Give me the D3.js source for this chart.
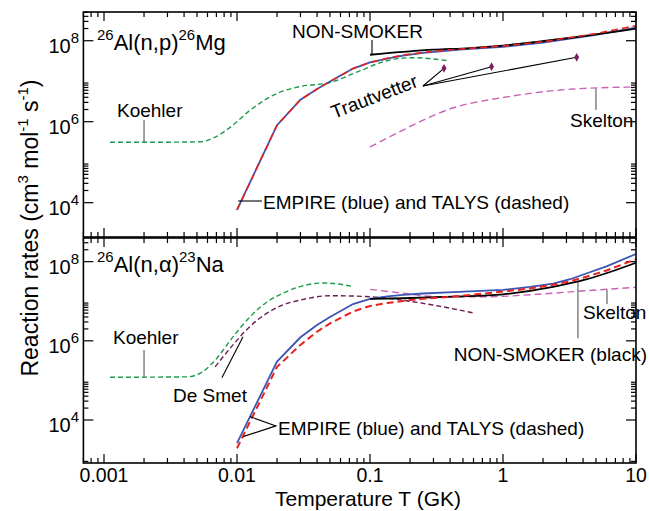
<!DOCTYPE html>
<html>
<head>
<meta charset="utf-8">
<script src="https://cdn.jsdelivr.net/npm/d3@7"></script>
<style>
  body { margin: 0; background: #fff; }
  text { font-family: "Liberation Sans", Arial, sans-serif; fill: #000; }
</style>
</head>
<body>
<script>
// ---- data (T in GK, rate in cm3 mol-1 s-1) ----

// 26Al(n,p)26Mg
var koehlerNpT = [0.00111, 0.0022, 0.0053, 0.0068, 0.0093, 0.0125, 0.02, 0.03, 0.05, 0.084, 0.134, 0.21, 0.385];
var koehlerNp  = [3.1e5, 3.1e5, 3.2e5, 4.1e5, 8.2e5, 1.9e6, 5e6, 7.4e6, 9.3e6, 1.8e7, 3.2e7, 3.8e7, 3.2e7];
var empireNpT  = [0.01, 0.02, 0.03, 0.04, 0.05, 0.0745, 0.1, 0.135, 0.177, 0.25, 0.32, 0.5, 1, 2, 3.2, 5, 10];
var empireNp   = [6.6e3, 8.2e5, 3.5e6, 6.4e6, 9.8e6, 2.05e7, 2.9e7, 3.6e7, 4.3e7, 5.0e7, 5.4e7, 6.1e7, 7.1e7, 9.0e7, 1.12e8, 1.4e8, 2.1e8];
var talysNpT   = [0.01, 0.02, 0.03, 0.04, 0.05, 0.0745, 0.1, 0.135, 0.177, 0.25, 0.32, 0.5, 1, 2, 3.2, 5, 10];
var talysNp    = [6.6e3, 8.2e5, 3.5e6, 6.4e6, 9.8e6, 2.05e7, 2.9e7, 3.7e7, 4.4e7, 5.1e7, 5.6e7, 6.3e7, 7.4e7, 9.4e7, 1.2e8, 1.5e8, 2.35e8];
var nonsmokerNpT = [0.1, 0.3, 0.56, 1, 3, 10];
var nonsmokerNp  = [4.5e7, 6e7, 6.6e7, 7.6e7, 1.15e8, 2.0e8];
var skeltonNpT = [0.1, 0.177, 0.238, 0.38, 1.07, 3.36, 10];
var skeltonNp  = [2.37e5, 6.2e5, 1.0e6, 1.95e6, 4.1e6, 6.4e6, 7.2e6];
var trautT     = [0.36, 0.82, 3.58];
var traut      = [2.08e7, 2.28e7, 3.9e7];

// 26Al(n,a)23Na
var koehlerNaT = [0.00111, 0.0042, 0.00555, 0.00708, 0.00933, 0.0125, 0.0168, 0.0222, 0.0298, 0.045, 0.0745];
var koehlerNa  = [1.2e5, 1.23e5, 1.67e5, 3.7e5, 1.26e6, 4e6, 9.6e6, 1.6e7, 2.35e7, 2.9e7, 2.35e7];
var desmetT    = [0.00684, 0.00933, 0.0125, 0.0168, 0.0222, 0.0298, 0.05, 0.1, 0.238, 0.594];
var desmet     = [2.2e5, 7.9e5, 2.3e6, 5e6, 8.1e6, 1.07e7, 1.38e7, 1.3e7, 9.1e6, 5.1e6];
var empireNaT  = [0.01, 0.02, 0.03, 0.04, 0.05, 0.0745, 0.1, 0.135, 0.177, 0.25, 0.42, 1, 1.6, 2.38, 3.2, 4.28, 6, 10];
var empireNa   = [2.6e3, 3e5, 1.23e6, 2.5e6, 4e6, 8.5e6, 1.15e7, 1.32e7, 1.45e7, 1.57e7, 1.7e7, 1.94e7, 2.3e7, 2.8e7, 3.6e7, 5.1e7, 7.6e7, 1.56e8];
var talysNaT   = [0.01, 0.02, 0.03, 0.04, 0.05, 0.0745, 0.1, 0.135, 0.177, 0.25, 0.42, 1, 1.6, 2.38, 3.2, 4.28, 6, 10];
var talysNa    = [1.94e3, 2.2e5, 7.9e5, 1.7e6, 2.75e6, 5.5e6, 7.6e6, 9.0e6, 1.02e7, 1.15e7, 1.31e7, 1.75e7, 2.1e7, 2.6e7, 3.2e7, 4.2e7, 6.0e7, 1.15e8];
var nonsmokerNaT = [0.1, 0.177, 0.42, 1, 2.38, 4.28, 10];
var nonsmokerNa  = [1.15e7, 1.19e7, 1.31e7, 1.5e7, 2.3e7, 3.6e7, 9.4e7];
var skeltonNaT = [0.1, 0.177, 0.32, 0.76, 1.8, 4.28, 10];
var skeltonNa  = [2.0e7, 1.6e7, 1.3e7, 1.3e7, 1.5e7, 1.85e7, 2.25e7];

// axis ticks
var xMajor = [0.001, 0.01, 0.1, 1, 10];
var xLabels = ["0.001", "0.01", "0.1", "1", "10"];
var yMajorExp = [4, 6, 8];

// ---- layout ----
var svg = d3.select("body").append("svg")
  .attr("width", 649).attr("height", 511);

var x = d3.scaleLog().domain([0.0007, 10]).range([83.4, 636]);

var panels = [
  { y: d3.scaleLog().domain([1.42e3, 5.12e8]).range([237, 12]) },
  { y: d3.scaleLog().domain([8.2e2, 3.96e8]).range([463, 238]) }
];

var colors = {
  blue: "#3a55b2", red: "#e8221e", green: "#1e9a4a",
  pink: "#c862b6", purple: "#6b1d55", black: "#000"
};

function zip(ts, vs) { return ts.map(function (t, i) { return [t, vs[i]]; }); }

// series table per panel (theory curves are drawn point to point, fits are smoothed)
panels[0].series = [
  { d: zip(koehlerNpT, koehlerNp), c: colors.green, w: 1.4, dash: "5,3", smooth: true },
  { d: zip(skeltonNpT, skeltonNp), c: colors.pink, w: 1.4, dash: "7,4", smooth: true },
  { d: zip(empireNpT, empireNp), c: colors.blue, w: 1.8, dash: null, smooth: false },
  { d: zip(nonsmokerNpT, nonsmokerNp), c: colors.black, w: 1.8, dash: null, smooth: true },
  { d: zip(talysNpT, talysNp), c: colors.red, w: 1.6, dash: "7,4", smooth: false }
];
panels[1].series = [
  { d: zip(koehlerNaT, koehlerNa), c: colors.green, w: 1.4, dash: "5,3", smooth: true },
  { d: zip(desmetT, desmet), c: colors.purple, w: 1.4, dash: "5,3", smooth: true },
  { d: zip(skeltonNaT, skeltonNa), c: colors.pink, w: 1.4, dash: "7,4", smooth: true },
  { d: zip(empireNaT, empireNa), c: colors.blue, w: 1.8, dash: null, smooth: false },
  { d: zip(nonsmokerNaT, nonsmokerNa), c: colors.black, w: 1.8, dash: null, smooth: true },
  { d: zip(talysNaT, talysNa), c: colors.red, w: 2, dash: "7,4", smooth: false }
];

// ---- axes / frames ----
var x0 = x.range()[0], x1 = x.range()[1];

var xMinor = [];
for (var k = -4; k <= 0; k++) {
  for (var m = 2; m <= 9; m++) {
    var v = m * Math.pow(10, k);
    if (v >= 0.0007 && v < 10) xMinor.push(v);
  }
}

panels.forEach(function (p) {
  var y = p.y;
  var yTop = y.range()[1], yBot = y.range()[0];
  var g = svg.append("g");

  var yMinor = [];
  [2, 4, 6, 8].forEach(function (e) {
    for (var m = 2; m <= 9; m++) {
      var v = m * Math.pow(10, e);
      if (v >= y.domain()[0] && v <= y.domain()[1]) yMinor.push(v);
    }
  });

  var ticks = g.append("g").attr("stroke", "#000").attr("stroke-width", 1.2);
  // x ticks, bottom and top edges, pointing inward
  xMajor.concat(xMinor).forEach(function (t) {
    var len = xMajor.indexOf(t) >= 0 ? 9 : 5;
    ticks.append("line").attr("x1", x(t)).attr("x2", x(t)).attr("y1", yBot).attr("y2", yBot - len);
    ticks.append("line").attr("x1", x(t)).attr("x2", x(t)).attr("y1", yTop).attr("y2", yTop + len);
  });
  // y ticks, left and right edges
  yMajorExp.map(function (e) { return Math.pow(10, e); }).concat(yMinor).forEach(function (v) {
    var len = yMinor.indexOf(v) >= 0 ? 5 : 10;
    ticks.append("line").attr("x1", x0).attr("x2", x0 + len).attr("y1", y(v)).attr("y2", y(v));
    ticks.append("line").attr("x1", x1).attr("x2", x1 - len).attr("y1", y(v)).attr("y2", y(v));
  });

  // y tick labels 10^n
  yMajorExp.forEach(function (e) {
    var t = g.append("text").attr("x", 79).attr("y", y(Math.pow(10, e)) + 12)
      .attr("text-anchor", "end").style("font-size", "20px");
    t.append("tspan").text("10");
    t.append("tspan").attr("dy", -10).style("font-size", "15px").text(e);
  });

  // series
  g.append("g").selectAll("path")
    .data(p.series).enter().append("path")
    .attr("d", function (s) {
      return d3.line()
        .x(function (d) { return x(d[0]); })
        .y(function (d) { return y(d[1]); })
        .curve(s.smooth ? d3.curveMonotoneX : d3.curveLinear)(s.d);
    })
    .attr("fill", "none")
    .attr("stroke", function (s) { return s.c; })
    .attr("stroke-width", function (s) { return s.w; })
    .attr("stroke-dasharray", function (s) { return s.dash; });

  p.g = g;

  g.append("rect").attr("x", x0).attr("y", yTop)
    .attr("width", x1 - x0).attr("height", yBot - yTop)
    .attr("fill", "none").attr("stroke", "#000").attr("stroke-width", 1.6);
});

// x tick labels (bottom panel only)
svg.append("g").selectAll("text")
  .data(xMajor).enter().append("text")
  .attr("x", function (d) { return x(d); })
  .attr("y", 481.5)
  .attr("text-anchor", "middle")
  .style("font-size", "19.5px")
  .text(function (d, i) { return xLabels[i]; });

// ---- annotations ----
function leader(p, pts, col) {
  p.g.append("path")
    .attr("d", d3.line().x(function (d) { return x(d[0]); }).y(function (d) { return p.y(d[1]); })(pts))
    .attr("fill", "none").attr("stroke", col || "#333").attr("stroke-width", 1.1);
}
function label(px, py, str, anchor, size) {
  return svg.append("text").attr("x", px).attr("y", py)
    .attr("text-anchor", anchor || "start")
    .style("font-size", (size || 19) + "px").text(str);
}
function reaction(px, py, a, mid, b, rest) {
  var t = svg.append("text").attr("x", px).attr("y", py).style("font-size", "22px");
  t.append("tspan").attr("dy", -10).style("font-size", "15px").text(a);
  t.append("tspan").attr("dy", 10).text(mid);
  t.append("tspan").attr("dy", -10).style("font-size", "15px").text(b);
  t.append("tspan").attr("dy", 10).text(rest);
}

var pTop = panels[0], pBot = panels[1];

// top panel
reaction(97, 50, "26", "Al(n,p)", "26", "Mg");
label(292, 38, "NON-SMOKER");
leader(pTop, [[0.1035, 1.04e8], [0.1035, 4.6e7]], "#000");
label(117, 117, "Koehler");
leader(pTop, [[0.002, 1.1e6], [0.002, 3.1e5]], "#555");
label(263, 209, "EMPIRE (blue) and TALYS (dashed)");
leader(pTop, [[0.0102, 1.1e4], [0.0154, 1.1e4]], "#000");
label(570, 127, "Skelton");
leader(pTop, [[5.0, 6.6e6], [5.0, 1.95e6]], "#555");
trautT.forEach(function (t, i) {
  leader(pTop, [[0.25, 7.6e6], [t, traut[i]]], "#000");
});
pTop.g.append("g").selectAll("path")
  .data(zip(trautT, traut)).enter().append("path")
  .attr("transform", function (d) { return "translate(" + x(d[0]) + "," + pTop.y(d[1]) + ")"; })
  .attr("d", d3.symbol().type(d3.symbolDiamond).size(22))
  .attr("fill", "#7a2163");
svg.append("text")
  .attr("transform", "translate(334,119) rotate(-21)")
  .style("font-size", "19px").text("Trautvetter");

// bottom panel
reaction(97, 272, "26", "Al(n,\u03b1)", "23", "Na");
label(113, 344, "Koehler");
leader(pBot, [[0.002, 5.9e5], [0.002, 1.23e5]], "#555");
label(173, 402, "De Smet");
leader(pBot, [[0.0111, 1.26e6], [0.0077, 1.16e5]], "#000");
label(278, 435, "EMPIRE (blue) and TALYS (dashed)");
leader(pBot, [[0.0125, 1.22e4], [0.0196, 7.1e3], [0.0111, 3.8e3]], "#000");
label(583, 319, "Skelton");
leader(pBot, [[6.05, 1.93e7], [6.05, 8.5e6]], "#555");
label(647, 361, "NON-SMOKER (black)", "end");
leader(pBot, [[3.66, 3.07e7], [3.66, 1.17e6]], "#555");

// axis titles
svg.append("text").attr("x", 368).attr("y", 505.5)
  .attr("text-anchor", "middle").style("font-size", "21px")
  .text("Temperature T (GK)");

var yt = svg.append("text")
  .attr("transform", "translate(38,228) rotate(-90)")
  .attr("text-anchor", "middle").style("font-size", "23px");
yt.append("tspan").text("Reaction rates (cm");
yt.append("tspan").attr("dy", -10).style("font-size", "15px").text("3");
yt.append("tspan").attr("dy", 10).text(" mol");
yt.append("tspan").attr("dy", -10).style("font-size", "15px").text("-1");
yt.append("tspan").attr("dy", 10).text(" s");
yt.append("tspan").attr("dy", -10).style("font-size", "15px").text("-1");
yt.append("tspan").attr("dy", 10).text(")");
</script>
</body>
</html>
